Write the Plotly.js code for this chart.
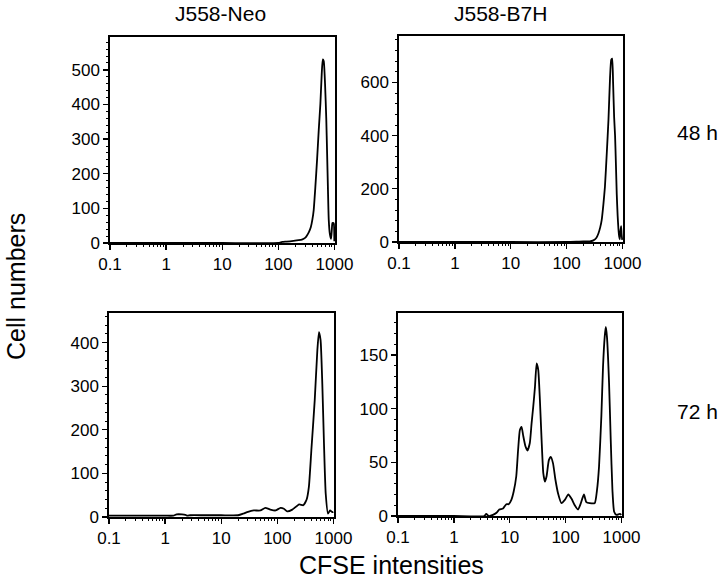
<!DOCTYPE html>
<html>
<head>
<meta charset="utf-8">
<script src="https://cdn.plot.ly/plotly-3.0.1.min.js"></script>
<style>html,body{margin:0;padding:0;background:#fff;}#chart{width:720px;height:584px;}</style>
</head>
<body>
<div id="chart"></div>
<script>
// ---- data (CFSE intensity vs cell count) ----
const neo48X = [0.1, 1, 10, 100, 117, 140, 186, 230, 263, 300, 324, 352, 380, 405, 427, 457, 490, 525, 562, 594, 620, 645, 680, 715, 740, 765, 792, 830, 872, 900, 920, 950, 975, 995];
const neo48Y = [0, 0, 0, 0, 3, 4, 6, 8, 10, 15, 22, 32, 46, 68, 95, 162, 240, 326, 403, 490, 530, 525, 460, 360, 260, 160, 66, 25, 12, 40, 58, 58, 56, 5];

const b7h48X = [0.1, 1, 10, 100, 150, 200, 260, 302, 340, 370, 400, 425, 455, 486, 524, 562, 601, 630, 655, 680, 710, 738, 765, 791, 820, 847, 875, 895, 920, 946, 965, 990];
const b7h48Y = [0, 0, 0, 0, 1, 2, 2, 6, 15, 31, 55, 82, 140, 208, 333, 459, 623, 685, 690, 600, 470, 400, 290, 180, 100, 50, 20, 10, 40, 60, 30, 8];

const neo72X = [0.1, 0.5, 1, 1.4, 1.6, 2.0, 2.3, 2.5, 2.8, 5, 10, 20, 25, 30, 38, 50, 61, 75, 93, 114, 131, 150, 185, 245, 290, 333, 365, 404, 464, 517, 552, 590, 633, 678, 728, 800, 870, 955, 995];
const neo72Y = [3, 3, 3, 3, 6, 6, 5, 3, 4, 4, 4, 4, 8, 12, 15, 15, 21, 17, 15, 21, 19, 13, 17, 29, 27, 40, 69, 153, 268, 383, 424, 406, 306, 169, 54, 8, 15, 11, 12];

const b7h72X = [0.1, 1, 3.5, 3.8, 4.2, 5, 5.8, 6.5, 7.6, 8.7, 9.6, 10.7, 11.8, 13.1, 14.1, 15.2, 16.3, 17.4, 19.1, 20.8, 22.9, 24.6, 26.4, 28.3, 30.3, 32.4, 34.7, 37.2, 39.9, 42.7, 45.7, 50.2, 54.3, 59.6, 65.7, 73.4, 84.3, 97, 112, 128, 146, 167, 185, 213, 235, 270, 333, 365, 397, 437, 468, 502, 525, 550, 600, 643, 690, 740, 815, 935, 995];
const b7h72Y = [0, 0, 0, 2, 0, 1, 3, 6, 7, 11, 11, 15, 23, 37, 61, 80, 83, 75, 65, 61, 68, 86, 102, 120, 142, 136, 108, 71, 40, 32, 37, 52, 55, 49, 34, 21, 12, 15, 20, 16, 10, 6, 11, 20, 13, 12, 12, 24, 46, 93, 139, 167, 176, 167, 124, 71, 24, 4, 1, 2, 1];

const colTitles = ['J558-Neo', 'J558-B7H'];
const rowTitles = ['48 h', '72 h'];
const xTickVals = [0.1, 1, 10, 100, 1000];
const xTickText = ['0.1', '1', '10', '100', '1000'];
const yTitle = 'Cell numbers';
const xTitle = 'CFSE intensities';

// ---- layout helpers ----
const W = 720, H = 584;
const px = x => x / W;
const py = y => 1 - y / H;
const FONT = 'Liberation Sans, Arial, Helvetica, sans-serif';

const panels = [
  {x: neo48X, y: neo48Y, box: [110, 335, 37, 243], yr: [0, 595], ydt: 100},
  {x: b7h48X, y: b7h48Y, box: [399, 623, 36, 242], yr: [0, 775], ydt: 200},
  {x: neo72X, y: neo72Y, box: [109, 334, 313, 517], yr: [0, 468], ydt: 100},
  {x: b7h72X, y: b7h72Y, box: [398, 622, 313, 516], yr: [0, 189], ydt: 50}
];

const traces = [];
const layout = {
  width: W, height: H,
  margin: {l: 0, r: 0, t: 0, b: 0},
  paper_bgcolor: '#fff', plot_bgcolor: '#fff',
  showlegend: false,
  font: {family: FONT, color: '#000', size: 15},
  annotations: []
};

panels.forEach((p, i) => {
  const n = i === 0 ? '' : String(i + 1);
  traces.push({
    type: 'scatter', mode: 'lines',
    x: p.x, y: p.y,
    xaxis: 'x' + n, yaxis: 'y' + n,
    line: {color: '#000', width: 1.8, shape: 'spline', smoothing: 0.5},
    hoverinfo: 'skip'
  });
  const [l, r, t, b] = p.box;
  layout['xaxis' + n] = {
    domain: [px(l), px(r)],
    anchor: 'y' + n,
    type: 'log',
    range: [-1, 3.01],
    tickmode: 'array', tickvals: xTickVals, ticktext: xTickText,
    ticks: 'outside', ticklen: 5, tickwidth: 1.3, tickcolor: '#000',
    minor: {ticks: 'outside', ticklen: 2.5, tickwidth: 1, tickcolor: '#000', dtick: 'D1', showgrid: false},
    showline: true, linecolor: '#000', linewidth: 1.7, mirror: true,
    showgrid: false, zeroline: false,
    tickfont: {family: FONT, size: 17, color: '#000'},
    fixedrange: true
  };
  layout['yaxis' + n] = {
    domain: [py(b), py(t)],
    anchor: 'x' + n,
    range: p.yr,
    dtick: p.ydt, tick0: 0,
    ticks: 'outside', ticklen: 5, tickwidth: 1.3, tickcolor: '#000',
    minor: {ticks: 'outside', ticklen: 2.5, tickwidth: 1, tickcolor: '#000', dtick: p.ydt / 5, showgrid: false},
    showline: true, linecolor: '#000', linewidth: 1.7, mirror: true,
    showgrid: false, zeroline: false,
    tickfont: {family: FONT, size: 17, color: '#000'},
    fixedrange: true
  };
});

function ann(text, x, y, size, angle) {
  layout.annotations.push({
    text: text, xref: 'paper', yref: 'paper',
    x: px(x), y: py(y), xanchor: 'center', yanchor: 'middle',
    showarrow: false, textangle: angle || 0,
    font: {family: FONT, size: size, color: '#000'}
  });
}
ann(colTitles[0], 220, 14, 21);
ann(colTitles[1], 500, 14, 21);
ann(rowTitles[0], 697, 133, 21);
ann(rowTitles[1], 697, 411, 21);
ann(yTitle, 16, 287, 25, -90);
ann(xTitle, 392, 565, 25);

Plotly.newPlot('chart', traces, layout, {displayModeBar: false, staticPlot: true});
</script>
</body>
</html>
